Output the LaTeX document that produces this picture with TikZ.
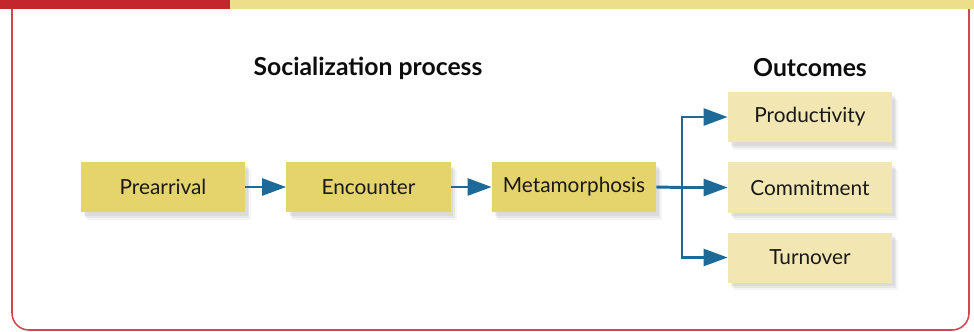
\documentclass[tikz,border=0pt]{standalone}
\usepackage{fontspec}
\setmainfont{Lato}
\usetikzlibrary{arrows.meta,shadows}
\definecolor{barred}{HTML}{C4262E}
\definecolor{framered}{HTML}{D2474F}
\definecolor{baryellow}{HTML}{EDDF8A}
\definecolor{stagefill}{HTML}{E5D46C}
\definecolor{outfill}{HTML}{F2E7B2}
\definecolor{flowblue}{HTML}{1D6A98}
\tikzset{
  softshadow/.style={
    drop shadow={shadow xshift=0.07cm, shadow yshift=-0.09cm, opacity=0.12},
    drop shadow={shadow xshift=0.11cm, shadow yshift=-0.14cm, opacity=0.12},
    drop shadow={shadow xshift=0.15cm, shadow yshift=-0.19cm, opacity=0.08}},
  stagebox/.style={fill=stagefill, minimum width=4.1cm, minimum height=1.25cm, inner sep=0pt,
    softshadow, font=\fontsize{14.8}{17}\selectfont, text=black!90},
  outbox/.style={stagebox, fill=outfill},
  ttl/.style={font=\bfseries\fontsize{17.6}{20}\selectfont, text=black!95},
  flow/.style={draw=flowblue, line width=2.1pt, -{Triangle[length=0.6cm,width=0.42cm]}},
}
\begin{document}
\begin{tikzpicture}[x=0.025cm, y=-0.025cm]
  \useasboundingbox (0,0) rectangle (974,331);
  % top bar and frame
  \fill[barred] (0,0) rectangle (230,9);
  \fill[baryellow] (230,0) rectangle (974,9);
  \draw[framered, line width=1.1pt, rounded corners=12] (12,9) -- (12,330) -- (969,330) -- (969,9);
  % titles
  \node[ttl] (ttlproc) at (368,68) {Socialization process};
  \node[ttl] (ttlout) at (810,68) {Outcomes};
  % stages
  \node[stagebox] (pre) at (163,187) {Prearrival};
  \node[stagebox] (enc) at (368.5,187) {Encounter};
  \node[stagebox] (meta) at (574,187) {Metamorphosis};
  % outcomes
  \node[outbox] (prod) at (810,117) {Productivity};
  \node[outbox] (comm) at (810,187.5) {Commitment};
  \node[outbox] (turn) at (810,257.5) {Turnover};
  \coordinate (fork) at (682,187.5);
  % connectors
  \draw[flow] (pre) -- (enc);
  \draw[flow] (enc) -- (meta);
  \draw[draw=flowblue, line width=2.1pt] (meta.east) -- (fork);
  \draw[flow] (fork) |- (prod.west);
  \draw[flow] (fork) -- (comm.west);
  \draw[flow] (fork) |- (turn.west);
\end{tikzpicture}
\end{document}
